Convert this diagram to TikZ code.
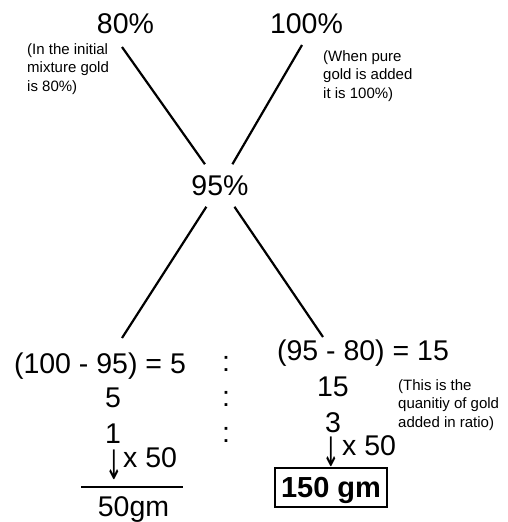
\documentclass[tikz,border=0pt]{standalone}
\usepackage{fontspec}
\setmainfont{Liberation Sans}
\newfontfamily\arrowfont{DejaVu Sans}
\usepackage{tikz}
\usetikzlibrary{positioning}

\newcommand{\downarr}{\scalebox{0.75}[1.45]{\arrowfont ↓}}

\begin{document}
\begin{tikzpicture}[
        x=1pt, y=-1pt,
        big/.style={font=\fontsize{28.5}{34}\selectfont, inner sep=0pt},
        down/.style={font=\fontsize{28}{34}\selectfont, inner sep=0pt},
        note/.style={font=\fontsize{15}{18.5}\selectfont, align=left, inner sep=0pt, anchor=north west},
        xline/.style={line width=2.2pt, black},
        answer/.style={draw, line width=2.4pt, font=\fontsize{29}{34}\selectfont\bfseries, minimum width=112pt, minimum height=39pt, inner sep=0pt, text depth=0pt}
    ]
        \useasboundingbox (0,0) rectangle (507,522);

        % top: the two purities
        \node[big, anchor=base] (p80) at (125.5,33) {80\%};
        \node[big, anchor=base] (p100) at (306.5,33) {100\%};
        \node[note] (n80) at (27,43) {(In the initial\\mixture gold\\is 80\%)};
        \node[note] (n100) at (323,50) {(When pure\\gold is added\\it is 100\%)};

        % middle: mean value
        \node[big, inner sep=11pt] (p95) at (220,185.5) {95\%};

        \coordinate (tl) at (122,47);
        \coordinate (tr) at (302,45);
        \coordinate (bl) at (122,338);
        \coordinate (br) at (323,337);
        \draw[xline] (tl) -- (p95);
        \draw[xline] (tr) -- (p95);
        \draw[xline] (p95) -- (bl);
        \draw[xline] (p95) -- (br);

        % left column
        \node[big, anchor=base] (lhs) at (100,373) {(100 - 95) = 5};
        \node[big, anchor=base] (l5) at (113,407) {5};
        \node[big, anchor=base] (l1) at (113,443) {1};
        \node[down] (larr) at (114,465) {\downarr};
        \node[big, anchor=base west] (lmul) at (123,467) {x 50};
        \draw[line width=2.7pt] (81,487) -- (183,487);
        \node[big, anchor=base] (g50) at (133.5,516) {50gm};

        % ratio colons
        \node[big, anchor=base] (c1) at (226,371) {:};
        \node[big, anchor=base] (c2) at (226,406) {:};
        \node[big, anchor=base] (c3) at (226,442) {:};

        % right column
        \node[big, anchor=base] (rhs) at (363,360) {(95 - 80) = 15};
        \node[big, anchor=base] (r15) at (333,396) {15};
        \node[big, anchor=base] (r3) at (333,432) {3};
        \node[down] (rarr) at (331.5,452) {\downarr};
        \node[big, anchor=base west] (rmul) at (342,455) {x 50};
        \node[answer] (g150) at (331,487.5) {150 gm};
        \node[note] (nq) at (398,379) {(This is the\\quanitiy of gold\\added in ratio)};
    \end{tikzpicture}
\end{document}
